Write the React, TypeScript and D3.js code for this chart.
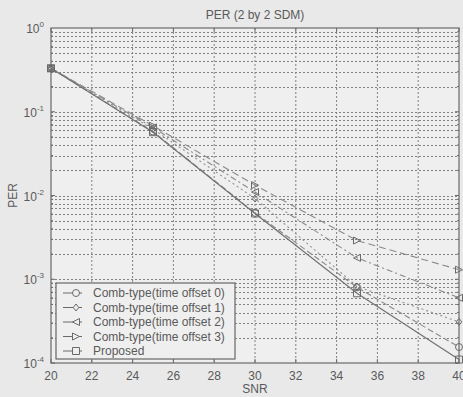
import { useEffect, useRef } from 'react'
import * as d3 from 'd3'

const snr = [20, 25, 30, 35, 40]
const offset0 = [0.33, 0.058, 0.0062, 0.0008, 0.000155]
const offset1 = [0.33, 0.062, 0.0092, 0.00082, 0.00031]
const offset2 = [0.33, 0.065, 0.011, 0.0018, 0.0006]
const offset3 = [0.33, 0.068, 0.0133, 0.0029, 0.0013]
const proposed = [0.33, 0.057, 0.0061, 0.00068, 0.00011]

const seriesNames = [
  'Comb-type(time offset 0)',
  'Comb-type(time offset 1)',
  'Comb-type(time offset 2)',
  'Comb-type(time offset 3)',
  'Proposed',
]
const xTicks = [20, 22, 24, 26, 28, 30, 32, 34, 36, 38, 40]
const yDecades = [0, -1, -2, -3, -4]

const font = 'Liberation Sans, Arial, sans-serif'

export default function App() {
  const svgRef = useRef<SVGSVGElement>(null)

  useEffect(() => {
    document.body.style.margin = '0'
    if (!svgRef.current) return
    const svg = d3.select(svgRef.current)
    svg.selectAll('*').remove()

    const width = 463
    const height = 397
    const left = 51
    const right = 459
    const top = 28
    const bottom = 363

    svg.attr('width', width).attr('height', height)
    svg.append('rect').attr('width', width).attr('height', height).attr('fill', '#e9e9e9')

    const x = d3.scaleLinear().domain([20, 40]).range([left, right])
    const y = d3.scaleLog().domain([1e-4, 1]).range([bottom, top])

    svg.append('rect')
      .attr('x', left).attr('y', top)
      .attr('width', right - left).attr('height', bottom - top)
      .attr('fill', '#efefef')

    const gridColor = '#6f6f6f'
    const grid = svg.append('g')
      .attr('stroke', gridColor)
      .attr('stroke-width', 1)
      .attr('stroke-dasharray', '2,2')
      .attr('opacity', 0.85)

    // vertical grid
    xTicks.slice(1, -1).forEach((t) => {
      grid.append('line')
        .attr('x1', x(t)).attr('x2', x(t))
        .attr('y1', top).attr('y2', bottom)
    })

    // horizontal grid (major + minor)
    const minorVals: number[] = []
    for (let e = -4; e < 0; e++) {
      for (let m = 1; m <= 9; m++) minorVals.push(m * Math.pow(10, e))
    }
    minorVals.filter((v) => v > 1e-4 && v < 1).forEach((v) => {
      grid.append('line')
        .attr('x1', left).attr('x2', right)
        .attr('y1', Math.round(y(v)) + 0.5).attr('y2', Math.round(y(v)) + 0.5)
    })

    // axes box
    svg.append('rect')
      .attr('x', left).attr('y', top)
      .attr('width', right - left).attr('height', bottom - top)
      .attr('fill', 'none').attr('stroke', '#6a6a6a').attr('stroke-width', 1.2)

    // ticks
    const ticks = svg.append('g').attr('stroke', '#6a6a6a')
    xTicks.forEach((t) => {
      ticks.append('line').attr('x1', x(t)).attr('x2', x(t)).attr('y1', bottom).attr('y2', bottom - 4)
      ticks.append('line').attr('x1', x(t)).attr('x2', x(t)).attr('y1', top).attr('y2', top + 4)
    })
    minorVals.forEach((v) => {
      const len = Math.abs(Math.log10(v) - Math.round(Math.log10(v))) < 1e-9 ? 4 : 2
      ticks.append('line').attr('x1', left).attr('x2', left + len).attr('y1', y(v)).attr('y2', y(v))
      ticks.append('line').attr('x1', right).attr('x2', right - len).attr('y1', y(v)).attr('y2', y(v))
    })

    const textColor = '#5a5a5a'

    // x tick labels
    svg.append('g')
      .selectAll('text')
      .data(xTicks)
      .enter()
      .append('text')
      .attr('x', (d) => x(d))
      .attr('y', 380)
      .attr('text-anchor', 'middle')
      .attr('font-family', font)
      .attr('font-size', 12)
      .attr('fill', textColor)
      .text((d) => d)

    // y tick labels
    yDecades.forEach((e) => {
      const t = svg.append('text')
        .attr('x', 44)
        .attr('y', y(Math.pow(10, e)) + 5)
        .attr('text-anchor', 'end')
        .attr('font-family', font)
        .attr('font-size', 12)
        .attr('fill', textColor)
      t.append('tspan').text('10')
      t.append('tspan').attr('dy', -6).attr('font-size', 8).text(String(e))
    })

    // title and axis labels
    svg.append('text')
      .attr('x', (left + right) / 2).attr('y', 19)
      .attr('text-anchor', 'middle')
      .attr('font-family', font).attr('font-size', 12)
      .attr('fill', textColor)
      .text('PER (2 by 2 SDM)')
    svg.append('text')
      .attr('x', (left + right) / 2).attr('y', 393)
      .attr('text-anchor', 'middle')
      .attr('font-family', font).attr('font-size', 12)
      .attr('fill', textColor)
      .text('SNR')
    svg.append('text')
      .attr('transform', `translate(17,${(top + bottom) / 2}) rotate(-90)`)
      .attr('text-anchor', 'middle')
      .attr('font-family', font).attr('font-size', 12)
      .attr('fill', textColor)
      .text('PER')

    const allSeries = [offset0, offset1, offset2, offset3, proposed]
    const dashes = ['6,3', '2,3', '6,3,2,3', '7,4', null]
    const markers = ['circle', 'diamond', 'left', 'right', 'square']
    const lineColors = ['#8a8a8a', '#8f8f8f', '#8a8a8a', '#8a8a8a', '#707070']

    const markerPath = (kind: string, s: number) => {
      switch (kind) {
        case 'diamond':
          return `M0,${-s}L${s * 0.8},0L0,${s}L${-s * 0.8},0Z`
        case 'left':
          return `M${-s},0L${s},${-s}L${s},${s}Z`
        case 'right':
          return `M${s},0L${-s},${-s}L${-s},${s}Z`
        case 'square':
          return `M${-s},${-s}H${s}V${s}H${-s}Z`
        default:
          return d3.symbol().type(d3.symbolCircle).size(Math.PI * s * s)()
      }
    }

    const line = d3.line<number>()
      .x((_, i) => x(snr[i]))
      .y((d) => y(d))

    const plotG = svg.append('g')
    allSeries.forEach((data, k) => {
      plotG.append('path')
        .attr('d', line(data))
        .attr('fill', 'none')
        .attr('stroke', lineColors[k])
        .attr('stroke-width', 1.1)
        .attr('stroke-dasharray', dashes[k])
      plotG.selectAll(`.m${k}`)
        .data(data)
        .enter()
        .append('path')
        .attr('class', `m${k}`)
        .attr('transform', (d, i) => `translate(${x(snr[i])},${y(d)})`)
        .attr('d', markerPath(markers[k], 3.5) as string)
        .attr('fill', 'none')
        .attr('stroke', '#6a6a6a')
        .attr('stroke-width', 1)
    })

    // legend
    const lg = svg.append('g')
    lg.append('rect')
      .attr('x', 56).attr('y', 283)
      .attr('width', 179).attr('height', 76)
      .attr('fill', '#efefef')
      .attr('stroke', '#666')
      .attr('stroke-width', 1.2)
    seriesNames.forEach((name, k) => {
      const yy = 293 + k * 14.5
      lg.append('line')
        .attr('x1', 63).attr('x2', 82)
        .attr('y1', yy).attr('y2', yy)
        .attr('stroke', '#6a6a6a')
      lg.append('path')
        .attr('transform', `translate(76,${yy})`)
        .attr('d', markerPath(markers[k], 3.5) as string)
        .attr('fill', '#efefef')
        .attr('stroke', '#6a6a6a')
      lg.append('text')
        .attr('x', 93).attr('y', yy + 4)
        .attr('font-family', font).attr('font-size', 12)
        .attr('fill', textColor)
        .text(name)
    })
  }, [])

  return <svg ref={svgRef} style={{ display: 'block' }}></svg>
}
